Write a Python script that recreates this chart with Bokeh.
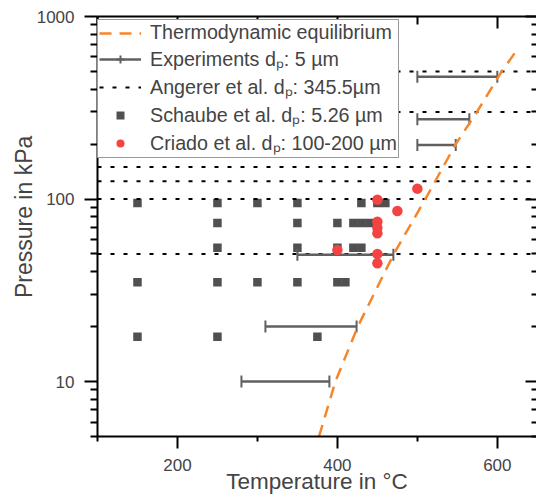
import math
from bokeh.plotting import figure
from bokeh.models import (FixedTicker, LogAxis, LinearAxis, CustomJSTickFormatter,
                          Legend, LegendItem, Range1d)
from bokeh.embed import file_html
from bokeh.resources import INLINE

# ---- data ----
eq_T = [377, 397.5, 425.5, 470.5, 510, 548, 574.5, 605.5, 625]
eq_p = [5, 10, 20, 50, 100, 200, 300, 500, 660]

exp_p = [468, 274, 198, 49.5, 20, 10]
exp_T_low = [500, 500, 500, 350, 310, 280]
exp_T_high = [600, 565, 548, 470, 424, 390]

angerer_p = [500, 300, 150, 125, 100, 50]

schaube_T = [150, 250, 300, 350, 430, 450, 460,
             250, 350, 400, 420, 430, 440,
             250, 350, 400, 420, 430,
             150, 250, 300, 350, 400, 410,
             150, 250, 375]
schaube_p = [95, 95, 95, 95, 95, 95, 95,
             74, 74, 74, 74, 74, 74,
             54, 54, 54, 54, 54,
             35, 35, 35, 35, 35, 35,
             17.6, 17.6, 17.6]

criado_T = [500, 450, 475, 450, 450, 450, 400, 450, 450]
criado_p = [114, 99, 86, 75, 69.5, 65, 52.5, 50, 44.5]

x_ticks = [200, 400, 600]
x_minor_ticks = [100, 300, 500]
y_ticks = [10, 100, 1000]
y_minor_ticks = [5, 6, 7, 8, 9, 20, 30, 40, 50, 60, 70, 80, 90,
                 200, 300, 400, 500, 600, 700, 800, 900]
T_MIN, T_MAX = 100, 649
P_MIN, P_MAX = 5, 1000

FONT = "Liberation Sans"
ORANGE = "#f7862a"
BAR_GRAY = "#606060"
SQ_GRAY = "#505050"
RED = "#f44343"

p = figure(width=536, height=496,
           x_range=Range1d(T_MIN, T_MAX), y_range=Range1d(P_MIN, P_MAX),
           y_axis_type="log", output_backend="svg", toolbar_location=None,
           min_border_left=97, min_border_top=16, min_border_right=0,
           min_border_bottom=0)
p.outline_line_color = None
p.grid.visible = False
p.background_fill_color = "white"
p.border_fill_color = "white"

xt = FixedTicker(ticks=x_ticks, minor_ticks=x_minor_ticks)
yt = FixedTicker(ticks=y_ticks, minor_ticks=y_minor_ticks)
fmt = CustomJSTickFormatter(code="return Math.round(tick).toString();")

xa = p.xaxis[0]
xa.ticker = xt
xa.axis_label = "Temperature in °C"
xa.axis_label_text_font = FONT
xa.axis_label_text_font_size = "22.5px"
xa.axis_label_text_font_style = "normal"
xa.major_label_text_font = FONT
xa.major_label_text_font_size = "17px"
xa.major_tick_out = 12
xa.major_tick_in = 0
xa.minor_tick_out = 5
xa.minor_tick_in = 0
xa.major_label_standoff = 10
xa.axis_label_standoff = -5
xa.axis_line_width = 2
xa.major_tick_line_width = 2
xa.minor_tick_line_width = 2

ya = p.yaxis[0]
ya.ticker = yt
ya.formatter = fmt
ya.axis_label = "\u00a0\u00a0\u00a0Pressure in kPa"
ya.axis_label_text_font = FONT
ya.axis_label_text_font_size = "23px"
ya.axis_label_text_font_style = "normal"
ya.major_label_text_font = FONT
ya.major_label_text_font_size = "17px"
ya.major_tick_out = 13
ya.major_tick_in = 0
ya.minor_tick_out = 7
ya.minor_tick_in = 0
ya.major_label_standoff = 10
ya.axis_label_standoff = -3
ya.axis_line_width = 2
ya.major_tick_line_width = 2
ya.minor_tick_line_width = 2

ra = LogAxis(ticker=yt, formatter=fmt, major_label_text_font_size="1px",
             major_label_text_color=None,
             major_tick_in=11, major_tick_out=0, minor_tick_in=5, minor_tick_out=0,
             axis_line_color=None, major_label_standoff=0,
             major_tick_line_width=2, minor_tick_line_width=2)
p.add_layout(ra, "right")

ta = LinearAxis(ticker=xt, major_label_text_font_size="1px",
                major_label_text_color=None,
                major_tick_in=12, major_tick_out=0, minor_tick_in=8, minor_tick_out=0,
                major_label_standoff=0, axis_line_width=2,
                major_tick_line_width=2, minor_tick_line_width=2)
p.add_layout(ta, "above")

# ---- glyphs ----
sq = p.scatter(schaube_T, schaube_p, marker="square", size=8.5,
               fill_color=SQ_GRAY, line_color=None)
ang = p.segment(x0=T_MIN, x1=T_MAX, y0=angerer_p, y1=angerer_p,
                line_color="black", line_width=2, line_dash="4 9")
bars = p.segment(x0=exp_T_low, x1=exp_T_high, y0=exp_p, y1=exp_p,
                 line_color=BAR_GRAY, line_width=2.5)
caps = p.scatter(x=exp_T_low + exp_T_high, y=exp_p + exp_p, marker="dash",
                 angle=math.pi / 2, size=12, line_color=BAR_GRAY, line_width=2)
# zero-size twin of the caps: invisible in the plot, gives the legend its cap symbol
cap_key = p.scatter(x=exp_T_low + exp_T_high, y=exp_p + exp_p, marker="cross",
                    size=0, line_color=BAR_GRAY, line_width=2)
cri = p.scatter(criado_T, criado_p, marker="circle", size=10.5,
                fill_color=RED, line_color=None)
eq = p.line(eq_T, eq_p, line_color=ORANGE, line_width=2.5, line_dash="12 8")

legend = Legend(items=[
    LegendItem(label="Thermodynamic equilibrium", renderers=[eq]),
    LegendItem(label="Experiments dₚ: 5 µm", renderers=[bars, cap_key]),
    LegendItem(label="Angerer et al. dₚ: 345.5µm", renderers=[ang]),
    LegendItem(label="Schaube et al. dₚ: 5.26 µm", renderers=[sq]),
    LegendItem(label="Criado et al. dₚ: 100-200 µm", renderers=[cri]),
], location=(0, 278), label_text_font=FONT, label_text_font_size="19.7px",
    glyph_width=42, glyph_height=20, label_height=20, label_standoff=9,
    spacing=1, padding=1, margin=0, border_line_color="#333333",
    border_line_width=1.5, background_fill_color="white", background_fill_alpha=1)
p.add_layout(legend)

open("out.html", "w").write(file_html(p, INLINE))
